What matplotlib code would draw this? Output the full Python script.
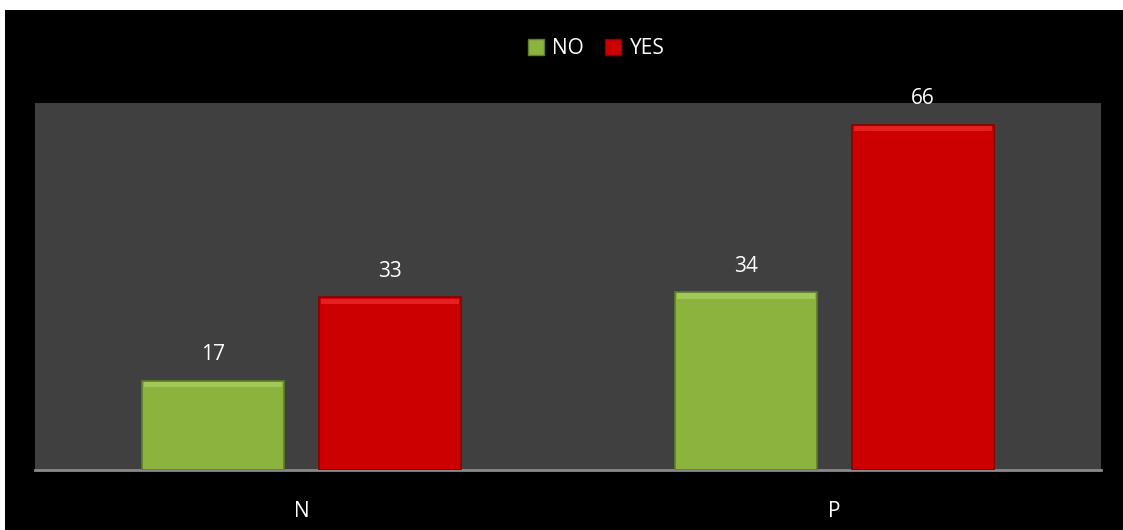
import numpy as np
import matplotlib.pyplot as plt
from matplotlib.patches import Rectangle
from matplotlib.lines import Line2D

# --- Datos ---
categorias = ['N', 'P']
valores_no = [17, 34]
valores_yes = [33, 66]

W, H = 1123, 530
fig = plt.figure(figsize=(W / 100, H / 100), dpi=100, facecolor='white')
plt.rcParams['font.family'] = ['Open Sans', 'DejaVu Sans']

# fondo negro del grafico (con margen blanco arriba/izquierda)
fig.patches.append(Rectangle((5 / W, 0), 1 - 5 / W, 1 - 10 / H,
                             transform=fig.transFigure, facecolor='black',
                             edgecolor='none', zorder=-10))

ax = fig.add_axes([35 / W, 60 / H, 1066 / W, 367 / H])
ax.set_zorder(1)
ax.set_facecolor('#404040')

x = np.arange(len(categorias))
ancho = 0.268
off = 0.166
b1 = ax.bar(x - off, valores_no, ancho, color='#8DB33F', edgecolor='#5E7F28', linewidth=1.2, zorder=3)
b2 = ax.bar(x + off, valores_yes, ancho, color='#CC0000', edgecolor='#8E0000', linewidth=1.2, zorder=3)

# brillo superior (efecto bisel)
for barras, claro in ((b1, '#A3C85A'), (b2, '#E52020')):
    for b in barras:
        ax.bar(b.get_x() + b.get_width() / 2, 1.0, b.get_width() * 0.96,
               bottom=b.get_height() - 1.2, color=claro, linewidth=0, zorder=4)

for barras in (b1, b2):
    for b in barras:
        ax.text(b.get_x() + b.get_width() / 2, b.get_height() + 3.0, f'{b.get_height():g}',
                ha='center', va='bottom', color='white', fontsize=15)

ax.set_xlim(-0.5, 1.5)
ax.set_ylim(0, 70.2)
ax.set_yticks([])
ax.set_xticks(x)
ax.set_xticklabels(categorias, color='white', fontsize=15)
ax.tick_params(axis='x', length=0, pad=22)
for s in ['top', 'right', 'left']:
    ax.spines[s].set_visible(False)
ax.spines['bottom'].set_color('#8A8A8A')
ax.spines['bottom'].set_linewidth(2)

handles = [Line2D([], [], marker='s', linestyle='none', markersize=11,
                  markerfacecolor='#8DB33F', markeredgecolor='#5E7F28'),
           Line2D([], [], marker='s', linestyle='none', markersize=11,
                  markerfacecolor='#CC0000', markeredgecolor='#8E0000')]
leg = fig.legend(handles, ['NO', 'YES'], loc='center', bbox_to_anchor=(595 / W, 1 - 49 / H),
                 ncol=2, frameon=False, fontsize=15, labelcolor='white',
                 handletextpad=0.3, columnspacing=0.9, handlelength=1.0)
leg.set_zorder(2)

plt.savefig('out.png', dpi=100, facecolor=fig.get_facecolor())
plt.close()
